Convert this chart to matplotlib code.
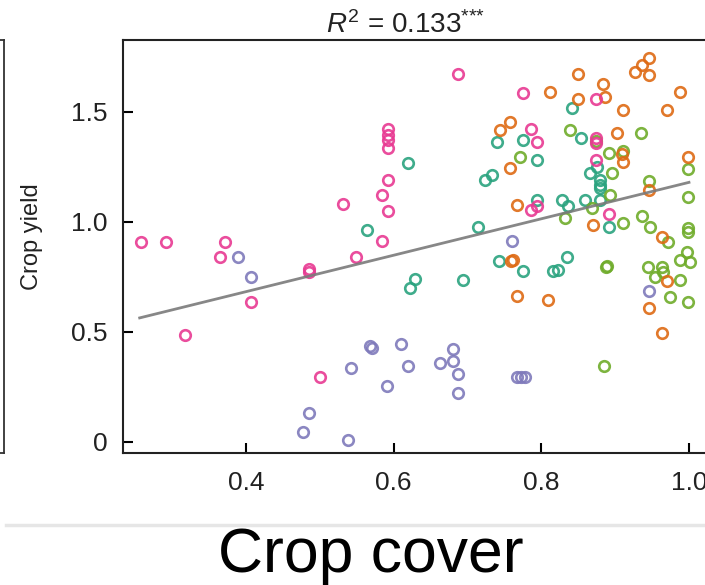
import numpy as np
import matplotlib
matplotlib.use('Agg')
import matplotlib.pyplot as plt
from matplotlib.lines import Line2D

plt.rcParams['font.family'] = ['Liberation Sans', 'DejaVu Sans']
plt.rcParams['mathtext.fontset'] = 'custom'
plt.rcParams['mathtext.rm'] = 'Liberation Sans'
plt.rcParams['mathtext.it'] = 'Liberation Sans:italic'

# crop cover / crop yield per group
pink_x = [0.258, 0.292, 0.372, 0.365, 0.407, 0.317, 0.485, 0.485, 0.500, 0.549,
          0.584, 0.531, 0.592, 0.584, 0.592, 0.592, 0.592, 0.592, 0.592, 0.687,
          0.775, 0.786, 0.794, 0.874, 0.874, 0.874, 0.874, 0.786, 0.794, 0.892]
pink_y = [0.909, 0.909, 0.909, 0.841, 0.636, 0.486, 0.786, 0.773, 0.295, 0.841,
          0.914, 1.082, 1.050, 1.123, 1.191, 1.336, 1.373, 1.395, 1.423, 1.673,
          1.586, 1.423, 1.364, 1.559, 1.382, 1.359, 1.282, 1.055, 1.073, 1.036]

purple_x = [0.389, 0.407, 0.485, 0.477, 0.538, 0.542, 0.568, 0.571, 0.610, 0.619,
            0.591, 0.663, 0.680, 0.680, 0.687, 0.687, 0.767, 0.772, 0.778, 0.760,
            0.946]
purple_y = [0.841, 0.750, 0.132, 0.045, 0.009, 0.336, 0.436, 0.427, 0.445, 0.345,
            0.255, 0.359, 0.423, 0.368, 0.309, 0.223, 0.295, 0.295, 0.295, 0.914,
            0.686]

teal_x = [0.619, 0.564, 0.714, 0.724, 0.733, 0.740, 0.775, 0.622, 0.629, 0.694,
          0.743, 0.775, 0.794, 0.794, 0.828, 0.836, 0.859, 0.879, 0.879, 0.892,
          0.841, 0.854, 0.866, 0.879, 0.835, 0.816, 0.822, 0.875, 0.879]
teal_y = [1.268, 0.964, 0.977, 1.191, 1.214, 1.364, 1.373, 0.700, 0.741, 0.736,
          0.823, 0.777, 1.282, 1.100, 1.100, 1.073, 1.100, 1.100, 1.155, 0.977,
          1.518, 1.382, 1.223, 1.168, 0.841, 0.777, 0.782, 1.250, 1.191]

orange_x = [0.744, 0.757, 0.757, 0.767, 0.759, 0.767, 0.850, 0.812, 0.883, 0.850,
            0.886, 0.910, 0.927, 0.936, 0.946, 0.946, 0.988, 0.970, 0.902, 0.910,
            0.909, 0.998, 0.870, 0.946, 0.963, 0.762, 0.970, 0.809, 0.946, 0.963]
orange_y = [1.418, 1.455, 1.245, 1.077, 0.823, 0.664, 1.673, 1.591, 1.627, 1.559,
            1.568, 1.509, 1.682, 1.714, 1.745, 1.668, 1.591, 1.509, 1.405, 1.273,
            1.310, 1.295, 0.986, 1.145, 0.932, 0.827, 0.732, 0.645, 0.609, 0.495]

green_x = [0.771, 0.839, 0.935, 0.892, 0.910, 0.896, 0.998, 0.946, 0.832, 0.893,
           0.910, 0.868, 0.998, 0.936, 0.947, 0.971, 0.998, 0.998, 0.997, 1.001,
           0.988, 0.887, 0.889, 0.944, 0.963, 0.965, 0.954, 0.988, 0.974, 0.998,
           0.885, 0.874]
green_y = [1.295, 1.418, 1.405, 1.314, 1.323, 1.223, 1.241, 1.186, 1.018, 1.123,
           0.995, 1.064, 1.114, 1.027, 0.977, 0.909, 0.973, 0.955, 0.864, 0.818,
           0.827, 0.795, 0.800, 0.795, 0.795, 0.773, 0.750, 0.736, 0.659, 0.636,
           0.345, 1.370]

fit_x = [0.256, 1.0]
fit_y = [0.564, 1.18]

groups = [
    (purple_x, purple_y, '#7f7abb'),
    (teal_x, teal_y, '#2aa37f'),
    (green_x, green_y, '#6fac2a'),
    (orange_x, orange_y, '#de6a14'),
    (pink_x, pink_y, '#e83a92'),
]

W, H = 705, 585
fig = plt.figure(figsize=(W / 100, H / 100), dpi=100)

ax = fig.add_axes([123 / W, 1 - 453 / H, (705 - 123) / W, 413 / H])
for gx, gy, c in groups:
    ax.plot(gx, gy, 'o', mfc='none', mec=c, ms=7.6, mew=1.9, alpha=0.9)
ax.plot(fit_x, fit_y, color='#7a7a7a', lw=2.0, alpha=0.9, zorder=5)

ax.set_xlim(0.2334, 1.0217)
ax.set_ylim(-0.05, 1.827)
ax.set_xticks([0.4, 0.6, 0.8, 1.0])
ax.set_xticklabels(['0.4', '0.6', '0.8', '1.0'])
ax.set_yticks([0, 0.5, 1.0, 1.5])
ax.set_yticklabels(['0', '0.5', '1.0', '1.5'])
ax.tick_params(direction='in', length=7, width=1.5, labelsize=19,
               labelcolor='#222222')
ax.tick_params(axis='y', pad=11)
ax.tick_params(axis='x', pad=13)
ax.spines['right'].set_visible(False)
for s in ['left', 'top', 'bottom']:
    ax.spines[s].set_linewidth(1.5)
    ax.spines[s].set_color('#222222')
ax.set_ylabel('Crop yield', fontsize=17, color='#222222')
ax.yaxis.set_label_coords(-0.137, 0.524)

fig.text(406 / W, 1 - 33 / H, r'$R^2$ = 0.133$^{{*}{*}{*}}$', ha='center',
         va='baseline', fontsize=20, color='#222222')

# edge of the neighbouring panel on the left
ax2 = fig.add_axes([-0.2, 1 - 453 / H, 0.2 + 4 / W, 413 / H])
ax2.set_xticks([])
ax2.set_yticks([])
for s in ax2.spines.values():
    s.set_linewidth(1.3)
    s.set_color('#333333')

fig.add_artist(Line2D([6 / W, 1], [1 - 525 / H, 1 - 525 / H], color='#e6e6e6', lw=2.5))
fig.text(371 / W, 1 - 572 / H, 'Crop cover', ha='center', va='baseline',
         fontsize=45, color='black')

fig.savefig('out.png', dpi=100)
